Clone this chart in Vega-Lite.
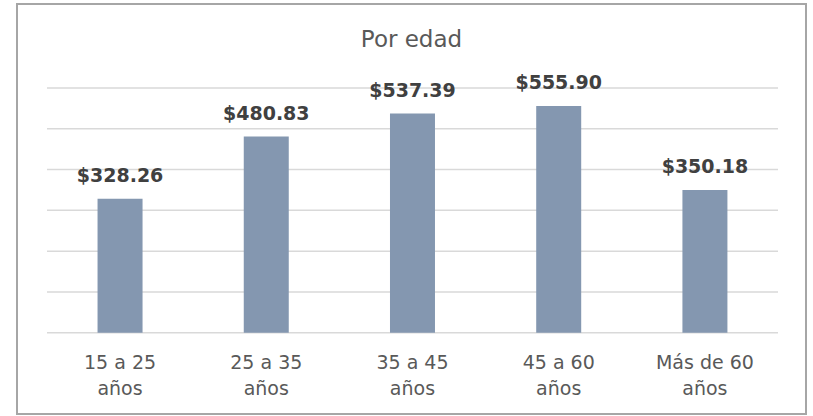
{
  "$schema": "https://vega.github.io/schema/vega-lite/v6.json",
  "width": 789,
  "height": 410,
  "autosize": {"type": "none"},
  "padding": {"left": 17, "top": 4, "right": 7, "bottom": 2},
  "background": "white",
  "title": {
    "text": "Por edad",
    "anchor": "middle",
    "frame": "group",
    "font": "DejaVu Sans",
    "fontSize": 23,
    "fontWeight": "normal",
    "color": "#595959",
    "baseline": "alphabetic",
    "offset": -66
  },
  "config": {"view": {"stroke": "#A6A6A6", "strokeWidth": 2}},
  "datasets": {
    "edades": [
      {"edad": "15 a 25 años", "gasto": 328.26},
      {"edad": "25 a 35 años", "gasto": 480.83},
      {"edad": "35 a 45 años", "gasto": 537.39},
      {"edad": "45 a 60 años", "gasto": 555.90},
      {"edad": "Más de 60 años", "gasto": 350.18}
    ],
    "grid": [
      {"v": 0}, {"v": 100}, {"v": 200}, {"v": 300}, {"v": 400}, {"v": 500}, {"v": 600}
    ]
  },
  "layer": [
    {
      "data": {"name": "grid"},
      "mark": {"type": "rule", "color": "#D9D9D9", "strokeWidth": 1.5},
      "encoding": {
        "x": {"datum": 0, "type": "quantitative", "scale": {"domain": [-0.04104, 1.0383], "nice": false, "zero": false}, "axis": null},
        "x2": {"datum": 1},
        "y": {"field": "v", "type": "quantitative", "scale": {"domain": [-199.4, 806], "nice": false, "zero": false}, "axis": null}
      }
    },
    {
      "data": {"name": "edades"},
      "layer": [
        {
          "mark": {"type": "bar", "color": "#8497B0", "width": 45},
          "encoding": {
            "x": {
              "field": "edad", "type": "nominal", "sort": null,
              "scale": {"paddingInner": 0, "paddingOuter": 0.198, "align": 0.517},
              "axis": {
                "title": null, "domain": false, "ticks": false, "grid": false, "labelAngle": 0,
                "labelFont": "DejaVu Sans", "labelFontSize": 19, "labelColor": "#595959",
                "labelBaseline": "alphabetic", "labelPadding": 0, "labelLineHeight": 26,
                "offset": -46, "labelLimit": 0, "labelOverlap": false,
                "labelExpr": "[replace(datum.label, ' años', ''), 'años']"
              }
            },
            "y": {"field": "gasto", "type": "quantitative", "scale": {"domain": [-199.4, 806], "nice": false, "zero": false}, "axis": null},
            "y2": {"datum": 0}
          }
        },
        {
          "mark": {"type": "text", "font": "DejaVu Sans", "fontWeight": "bold", "fontSize": 19, "color": "#404040", "baseline": "alphabetic", "dy": -17},
          "encoding": {
            "x": {"field": "edad", "type": "nominal", "sort": null},
            "y": {"field": "gasto", "type": "quantitative"},
            "text": {"field": "gasto", "type": "quantitative", "format": "$,.2f"}
          }
        }
      ]
    }
  ],
  "resolve": {"scale": {"x": "independent"}}
}
